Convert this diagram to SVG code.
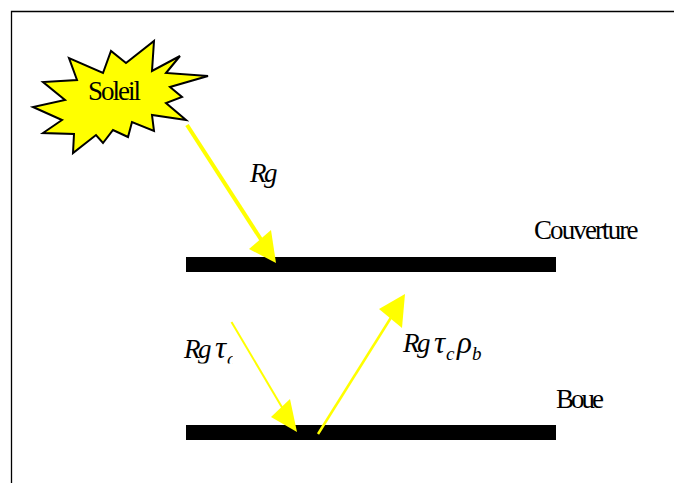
<svg xmlns="http://www.w3.org/2000/svg" width="674" height="483" viewBox="0 0 674 483">
<style>
.t{font-family:"Liberation Serif","Times New Roman",serif;fill:#000}
.l{font-size:27px}
.m{font-size:27px;font-style:italic;letter-spacing:-2.500px}
.g{font-size:31px;font-style:italic}
.s{font-size:19px;font-style:italic}
.bar{fill:#000}
.ray{stroke:#ff0;fill:none}
.head{fill:#ff0}
</style>
<defs><clipPath id="c"><rect x="170" y="330" width="62.7" height="33.500"/></clipPath></defs>
<rect width="674" height="483" fill="#fff"/>
<path d="M674 11.500H11.500V483" fill="none" stroke="#000" stroke-width="1.300"/>
<g id="soleil">
<polygon points="154,41 152,71 180,56 166,73 208,76 170,87 182,97 166,103 186,120 152,115 154,131 132,122 128,137 113,130 103,143 96,135 73,153 74,134 43,133 62,120 33,107 65,100 43,82 77,80 69,58 103,73 111,51 126,63" fill="#ff0" stroke="#000" stroke-width="2"/>
<text class="t l" x="88" y="100" letter-spacing="-2">Soleil</text>
</g>
<g id="couverture">
<rect class="bar" x="186" y="257" width="370" height="15"/>
<text class="t l" x="534" y="239" letter-spacing="-1.900">Couverture</text>
</g>
<g id="boue">
<rect class="bar" x="186" y="425" width="370" height="15"/>
<text class="t l" x="556" y="408" letter-spacing="-3">Boue</text>
</g>
<g id="connectors">
<line class="ray" x1="187" y1="125" x2="262" y2="241" stroke-width="4"/>
<polygon class="head" points="276,263 271,230 249,249"/>
<line class="ray" x1="231.500" y1="322" x2="283" y2="409" stroke-width="2"/>
<polygon class="head" points="297,432 290,399 271,417"/>
<line class="ray" x1="318" y1="434" x2="392" y2="316" stroke-width="2.500"/>
<polygon class="head" points="405,294 379,309 402,328"/>
</g>
<g id="labels">
<text class="t m" x="250" y="182">Rg</text>
<g clip-path="url(#c)"><text class="t m" x="184" y="358">Rg</text><text class="t g" x="215" y="358">τ</text><text class="t s" x="227" y="365">c</text></g>
<text class="t m" x="403" y="352">Rg</text><text class="t g" x="434" y="353">τ</text><text class="t s" x="446" y="360">c</text><text class="t g" x="457" y="353">ρ</text><text class="t s" x="472" y="360">b</text>
</g>
</svg>
